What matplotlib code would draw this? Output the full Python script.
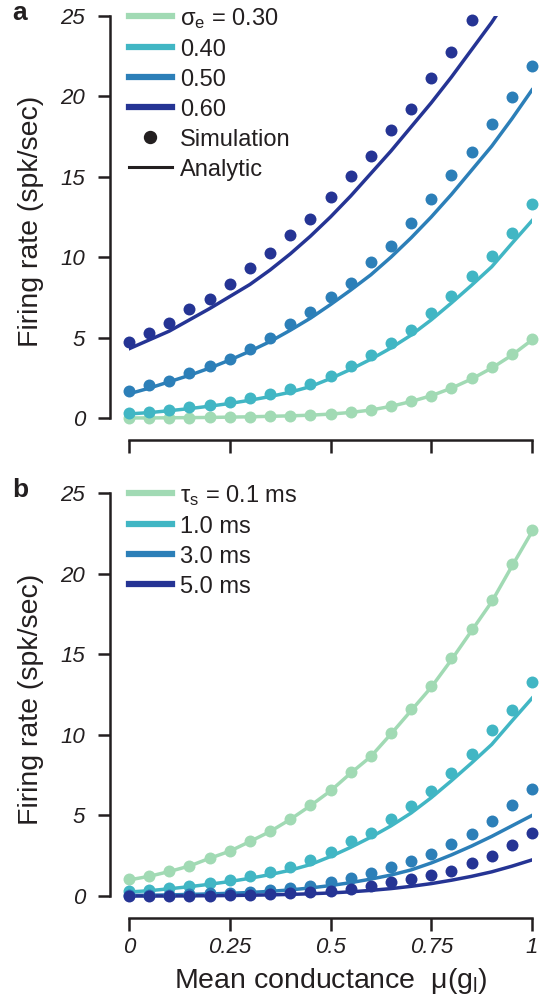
import matplotlib
matplotlib.use('Agg')
import matplotlib.pyplot as plt
from matplotlib.lines import Line2D

plt.rcParams['font.family'] = ['Liberation Sans', 'DejaVu Sans']
plt.rcParams['mathtext.fontset'] = 'custom'
plt.rcParams['mathtext.rm'] = 'Liberation Sans'
plt.rcParams['mathtext.it'] = 'Liberation Sans:italic'

ink = '#231f20'
colors = ['#a1dab4', '#41b6c4', '#2c7fb8', '#253494']

# mean conductance grid
mu = [0.0, 0.05, 0.1, 0.15, 0.2, 0.25, 0.3, 0.35, 0.4, 0.45, 0.5,
      0.55, 0.6, 0.65, 0.7, 0.75, 0.8, 0.85, 0.9, 0.95, 1.0]

# panel a: sigma_e
sigma_labels = ['0.30', '0.40', '0.50', '0.60']
sim_a = [
    [0.0, 0.0, 0.01, 0.02, 0.04, 0.06, 0.08, 0.1, 0.14, 0.17, 0.25,
     0.35, 0.5, 0.77, 1.08, 1.39, 1.89, 2.47, 3.15, 3.96, 4.89],
    [0.29, 0.39, 0.52, 0.66, 0.81, 1.01, 1.26, 1.47, 1.8, 2.12, 2.63,
     3.25, 3.92, 4.64, 5.47, 6.51, 7.61, 8.83, 10.07, 11.49, 13.29],
    [1.7, 2.05, 2.3, 2.78, 3.23, 3.69, 4.29, 4.99, 5.85, 6.59, 7.54,
     8.41, 9.72, 10.72, 12.11, 13.6, 15.11, 16.56, 18.28, 19.98, 21.91],
    [4.71, 5.31, 5.93, 6.78, 7.4, 8.31, 9.31, 10.24, 11.4, 12.36, 13.76,
     15.07, 16.29, 17.91, 19.22, 21.14, 22.76, 24.75],
]
ana_a = [
    [0.0, 0.0, 0.01, 0.02, 0.03, 0.05, 0.07, 0.1, 0.13, 0.17, 0.24,
     0.34, 0.49, 0.72, 1.02, 1.38, 1.85, 2.42, 3.1, 3.9, 4.85],
    [0.25, 0.33, 0.45, 0.58, 0.73, 0.9, 1.1, 1.33, 1.6, 1.95, 2.45,
     3.02, 3.65, 4.35, 5.15, 6.1, 7.15, 8.25, 9.4, 10.85, 12.27],
    [1.5, 1.85, 2.25, 2.65, 3.1, 3.6, 4.15, 4.75, 5.45, 6.2, 7.05,
     7.95, 8.9, 10.0, 11.2, 12.5, 13.9, 15.4, 16.9, 18.6, 20.4],
    [4.3, 4.85, 5.4, 6.1, 6.8, 7.55, 8.3, 9.2, 10.2, 11.3, 12.5,
     13.8, 15.2, 16.6, 18.1, 19.6, 21.2, 22.9, 24.6, 26.5, 28.4],
]

# panel b: tau_s
tau_labels = ['0.1', '1.0', '3.0', '5.0']
sim_b = [
    [1.03, 1.24, 1.55, 1.88, 2.38, 2.81, 3.43, 4.04, 4.8, 5.67, 6.58,
     7.72, 8.71, 10.14, 11.6, 13.04, 14.74, 16.58, 18.34, 20.6, 22.73],
    [0.33, 0.37, 0.48, 0.64, 0.81, 0.99, 1.24, 1.51, 1.82, 2.23, 2.75,
     3.42, 3.93, 4.76, 5.59, 6.54, 7.62, 8.82, 10.27, 11.55, 13.25],
    [0.05, 0.07, 0.09, 0.12, 0.16, 0.21, 0.28, 0.36, 0.47, 0.62, 0.85,
     1.12, 1.42, 1.78, 2.17, 2.63, 3.21, 3.87, 4.68, 5.65, 6.63],
    [0.0, 0.0, 0.01, 0.02, 0.03, 0.05, 0.08, 0.12, 0.17, 0.24, 0.33,
     0.45, 0.62, 0.85, 1.06, 1.3, 1.57, 2.03, 2.5, 3.16, 3.93],
]
ana_b = [
    [1.0, 1.22, 1.52, 1.86, 2.34, 2.78, 3.38, 4.0, 4.75, 5.6, 6.52,
     7.62, 8.65, 10.05, 11.5, 12.95, 14.65, 16.45, 18.25, 20.45, 22.6],
    [0.25, 0.33, 0.45, 0.58, 0.73, 0.9, 1.1, 1.33, 1.6, 1.95, 2.45,
     3.02, 3.65, 4.35, 5.15, 6.1, 7.15, 8.25, 9.4, 10.85, 12.27],
    [0.04, 0.05, 0.07, 0.1, 0.13, 0.17, 0.22, 0.29, 0.38, 0.5, 0.65,
     0.83, 1.05, 1.3, 1.62, 2.05, 2.55, 3.1, 3.7, 4.35, 5.0],
    [0.0, 0.0, 0.0, 0.01, 0.02, 0.03, 0.05, 0.07, 0.1, 0.14, 0.19,
     0.26, 0.35, 0.46, 0.6, 0.77, 0.98, 1.22, 1.5, 1.85, 2.24],
]

fig = plt.figure(figsize=(5.44, 9.99), dpi=100)
ax_a = fig.add_axes([129 / 544, 0.5720, 403 / 544, 0.412])
ax_b = fig.add_axes([129 / 544, 0.0934, 403 / 544, 0.4131])


def style_axis(ax):
    ax.set_xlim(0, 1)
    ax.set_ylim(-0.6, 25)
    for s in ['top', 'right']:
        ax.spines[s].set_visible(False)
    ax.spines['left'].set_position(('outward', 13.7))
    ax.spines['bottom'].set_position(('outward', 8.6))
    ax.spines['left'].set_bounds(0, 25)
    ax.spines['bottom'].set_bounds(0, 1)
    for s in ['left', 'bottom']:
        ax.spines[s].set_linewidth(1.8)
        ax.spines[s].set_color(ink)
    ax.tick_params(width=1.8, length=9, color=ink, labelcolor=ink,
                   labelsize=16)
    ax.tick_params(axis='y', pad=9)
    ax.tick_params(axis='x', pad=5)
    ax.set_yticks([0, 5, 10, 15, 20, 25])
    ax.set_yticklabels(['0', '5', '10', '15', '20', '25'], style='italic')
    ax.set_xticks([0, 0.25, 0.5, 0.75, 1])
    ax.set_ylabel('Firing rate (spk/sec)', fontsize=20.5, color=ink,
                  labelpad=12)


def draw(ax, sims, anas):
    for c, sim, ana in zip(colors, sims, anas):
        ax.plot(mu[:len(ana)], ana, color=c, lw=2.5, zorder=2)
        ax.plot(mu[:len(sim)], sim, ls='', marker='o', ms=8.6, color=c,
                mec='none', clip_on=False, zorder=3)


style_axis(ax_a)
style_axis(ax_b)
draw(ax_a, sim_a, ana_a)
draw(ax_b, sim_b, ana_b)

ax_a.set_xticklabels([])
ax_b.set_xticklabels(['0', '0.25', '0.5', '0.75', '1'], style='italic')
ax_b.set_xlabel('Mean conductance  \u03bc(g$_\\mathregular{l}$)',
                fontsize=20.5, color=ink, labelpad=6)

handles_a = [Line2D([], [], color=c, lw=4.5) for c in colors]
handles_a += [Line2D([], [], ls='', marker='o', ms=8.6, color=ink),
              Line2D([], [], color=ink, lw=2.2)]
labels_a = ['\u03c3$_\\mathregular{e}$ = ' + sigma_labels[0]] + sigma_labels[1:]
labels_a += ['Simulation', 'Analytic']
ax_a.legend(handles_a, labels_a, loc='upper left',
            bbox_to_anchor=(0.0, 1.025), frameon=False, fontsize=17,
            handlelength=1.8, handletextpad=0.35, labelspacing=0.34,
            borderpad=0, borderaxespad=0, labelcolor=ink)

handles_b = [Line2D([], [], color=c, lw=4.5) for c in colors]
labels_b = ['\u03c4$_\\mathregular{s}$ = ' + tau_labels[0] + ' ms']
labels_b += [t + ' ms' for t in tau_labels[1:]]
ax_b.legend(handles_b, labels_b, loc='upper left',
            bbox_to_anchor=(0.0, 1.025), frameon=False, fontsize=17,
            handlelength=1.8, handletextpad=0.35, labelspacing=0.34,
            borderpad=0, borderaxespad=0, labelcolor=ink)

fig.text(12 / 544, 1 - 20 / 999, 'a', fontsize=19, fontweight='bold',
         color=ink)
fig.text(12 / 544, 1 - 497 / 999, 'b', fontsize=19, fontweight='bold',
         color=ink)

fig.savefig('out.png', dpi=100)
